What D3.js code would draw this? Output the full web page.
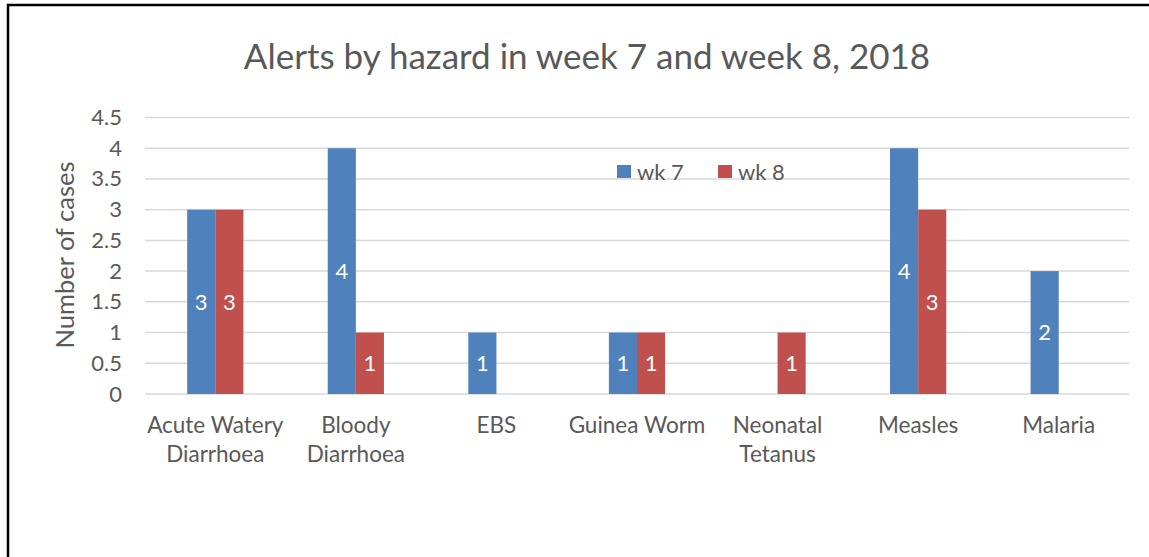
<!DOCTYPE html>
<html>
<head>
<meta charset="utf-8">
<script src="https://cdn.jsdelivr.net/npm/d3@7"></script>
<style>
  body { margin: 0; background: #fff; }
  text { font-family: Lato, "Open Sans", sans-serif; fill: #595959; }
</style>
</head>
<body>
<svg id="chart" width="1149" height="557"></svg>
<script>
const categories = [
  ["Acute Watery", "Diarrhoea"],
  ["Bloody", "Diarrhoea"],
  ["EBS"],
  ["Guinea Worm"],
  ["Neonatal", "Tetanus"],
  ["Measles"],
  ["Malaria"]
]
const seriesNames = ["wk 7", "wk 8"]
const wk7 = [3, 4, 1, 1, null, 4, 2]
const wk8 = [3, 1, null, 1, 1, 3, null]
const yTicks = [0, 0.5, 1, 1.5, 2, 2.5, 3, 3.5, 4, 4.5]

const colors = { "wk 7": "#4F81BD", "wk 8": "#C0504D" }
const margin = { top: 117.5, left: 145, right: 20, bottom: 163 }

const svg = d3.select("#chart")

// frame
svg.append("rect")
  .attr("x", 8).attr("y", 5)
  .attr("width", 1200).attr("height", 700)
  .attr("fill", "none").attr("stroke", "#000").attr("stroke-width", 2.5)

const rows = categories.map((c, i) => ({
  key: c.join(" "),
  lines: c,
  values: [
    { series: "wk 7", value: wk7[i] },
    { series: "wk 8", value: wk8[i] }
  ]
}))

const x0 = d3.scaleBand()
  .domain(rows.map(d => d.key))
  .range([margin.left, 1129])

const x1 = d3.scaleBand()
  .domain(seriesNames)
  .range([0, x0.bandwidth()])
  .paddingOuter(1.5)

const y = d3.scaleLinear()
  .domain([0, 4.5])
  .range([394, margin.top])

// gridlines
svg.append("g")
  .selectAll("line")
  .data(yTicks)
  .join("line")
  .attr("x1", margin.left).attr("x2", 1129)
  .attr("y1", d => y(d)).attr("y2", d => y(d))
  .attr("stroke", "#D9D9D9").attr("stroke-width", 1.5)

// y axis labels
const yAxis = svg.append("g")
  .attr("transform", `translate(${margin.left},0)`)
  .call(d3.axisLeft(y).tickValues(yTicks).tickSize(0).tickPadding(23).tickFormat(d3.format("")))
yAxis.select(".domain").remove()
yAxis.selectAll("text")
  .style("font-size", "22px")
  .attr("fill", "#595959")

// bars
const groups = svg.append("g")
  .selectAll("g")
  .data(rows)
  .join("g")
  .attr("transform", d => `translate(${x0(d.key)},0)`)

const bars = groups.selectAll("g")
  .data(d => d.values.filter(v => v.value != null))
  .join("g")

bars.append("rect")
  .attr("x", d => x1(d.series))
  .attr("width", x1.bandwidth())
  .attr("y", d => y(d.value))
  .attr("height", d => y(0) - y(d.value))
  .attr("fill", d => colors[d.series])

bars.append("text")
  .attr("x", d => x1(d.series) + x1.bandwidth() / 2)
  .attr("y", d => y(d.value / 2))
  .attr("dy", "0.36em")
  .attr("text-anchor", "middle")
  .style("font-size", "22px")
  .style("fill", "#fff")
  .text(d => d.value)

// category labels
const catLabels = svg.append("g")
  .selectAll("text")
  .data(rows)
  .join("text")
  .attr("text-anchor", "middle")
  .style("font-size", "22.5px")

catLabels.selectAll("tspan")
  .data(d => d.lines.map(l => ({ l, key: d.key })))
  .join("tspan")
  .attr("x", d => x0(d.key) + x0.bandwidth() / 2)
  .attr("y", (d, i) => 433 + i * 29)
  .text(d => d.l)

// y axis title
svg.append("text")
  .attr("transform", "translate(74,255) rotate(-90)")
  .attr("text-anchor", "middle")
  .style("font-size", "25.5px")
  .text("Number of cases")

// title
svg.append("text")
  .attr("x", 587).attr("y", 69)
  .attr("text-anchor", "middle")
  .style("font-size", "35px")
  .text("Alerts by hazard in week 7 and week 8, 2018")

// legend
const legendX = [617, 718]
const legend = svg.append("g")
  .selectAll("g")
  .data(seriesNames)
  .join("g")
  .attr("transform", (d, i) => `translate(${legendX[i]},165)`)

legend.append("rect")
  .attr("width", 14).attr("height", 13)
  .attr("fill", d => colors[d])

legend.append("text")
  .attr("x", 20).attr("y", 15)
  .style("font-size", "22px")
  .text(d => d)
</script>
</body>
</html>
